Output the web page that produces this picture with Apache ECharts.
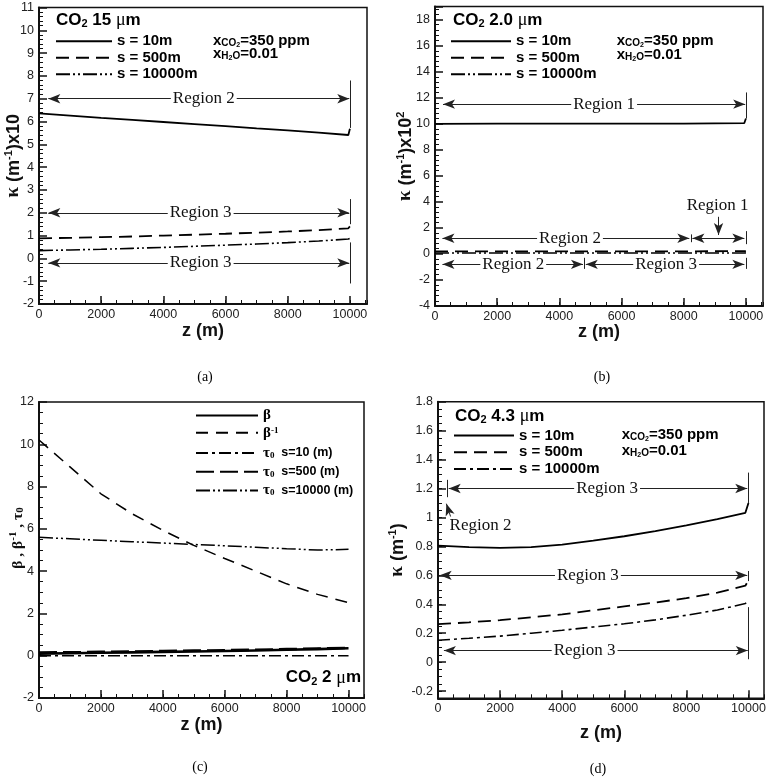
<!DOCTYPE html>
<html><head><meta charset="utf-8">
<script src="https://cdn.jsdelivr.net/npm/echarts@6/dist/echarts.min.js"></script>
<style>html,body{margin:0;padding:0;background:#fff}#c{width:767px;height:777px}</style>
</head><body><div id="c"></div>
<script>
// ---------- DATA ----------
// Panel (a) CO2 15 um
const zA = [0,1000,2000,3000,4000,5000,6000,7000,8000,9000,9950,10000];
const kA_s10    = [6.36,6.26,6.16,6.07,5.98,5.89,5.80,5.70,5.61,5.51,5.41,5.68];
const kA_s500   = [0.88,0.90,0.93,0.96,1.00,1.04,1.08,1.13,1.18,1.24,1.32,1.40];
const kA_s10000 = [0.34,0.37,0.40,0.44,0.48,0.53,0.58,0.63,0.69,0.76,0.85,0.88];
// Panel (b) CO2 2.0 um
const zB = [0,2000,4000,6000,8000,9950,10000];
const kB_s10    = [9.98,10.0,10.0,10.0,10.0,10.05,10.4];
const kB_s500   = [0.20,0.20,0.20,0.20,0.20,0.21,0.22];
const kB_s10000 = [0.07,0.07,0.07,0.07,0.07,0.07,0.08];
// Panel (c) CO2 2 um
const zC = [0,1000,2000,3000,4000,5000,6000,7000,8000,9000,10000];
const beta       = [0.10,0.12,0.14,0.16,0.18,0.20,0.22,0.25,0.28,0.31,0.35];
const betaInv    = [10.2,8.93,7.66,6.72,5.93,5.22,4.60,4.00,3.40,2.90,2.51];
const tau_s10    = [0.00,0.00,0.00,0.00,0.00,0.00,0.00,0.00,0.00,0.00,0.00];
const tau_s500   = [0.15,0.16,0.18,0.20,0.22,0.24,0.26,0.28,0.31,0.34,0.37];
const tau_s10000 = [5.60,5.53,5.46,5.39,5.33,5.26,5.20,5.13,5.06,5.00,5.03];
// Panel (d) CO2 4.3 um
const zD = [0,1000,2000,3000,4000,5000,6000,7000,8000,9000,9900,10000];
const kD_s10    = [0.805,0.795,0.790,0.795,0.812,0.840,0.870,0.905,0.945,0.988,1.032,1.100];
const kD_s500   = [0.262,0.275,0.290,0.310,0.330,0.358,0.385,0.412,0.442,0.480,0.528,0.566];
const kD_s10000 = [0.151,0.165,0.180,0.200,0.220,0.243,0.265,0.292,0.324,0.360,0.405,0.430];
// tick labels for panel (d) y axis
const yTicksD = [-0.2,0,0.2,0.4,0.6,0.8,1,1.2,1.4,1.6,1.8];

// annotations (data coordinates): arrows [x1,x2,y], ticks [x,y1,y2], labels [text,x,y], pointers [[x1,y1],[x2,y2]]
const annA_arrows = [[300,9980,7],[300,9980,2],[300,9980,-0.2]];
const annA_ticks  = [[10000,7.8,5.72],[10000,2.6,1.5],[10000,0.7,-1.1]];
const annA_labels = [['Region 2',5300,7],['Region 3',5200,2],['Region 3',5200,-0.2]];
const annB_arrows = [[257,9977,11.5],[240,8180,1.2],[8280,9950,1.2],[240,4760,-0.8],[4850,9950,-0.8]];
const annB_ticks  = [[10000,12.4,10.4],[8230,1.5,0.9],[10000,1.75,0.75],[4808,-0.3,-1.15],[10000,-0.3,-1.15]];
const annB_labels = [['Region 1',5440,11.5],['Region 2',4342,1.2],['Region 2',2517,-0.8],['Region 3',7435,-0.8],['Region 1',9089,3.75]];
const annB_pointers = [[[9120,2.85],[9120,1.45]]];
const annD_arrows = [[345,9960,1.2],[55,9960,0.6],[190,9977,0.08]];
const annD_ticks  = [[300,1.26,1.14],[10000,1.31,1.1],[10000,0.63,0.56],[10000,0.38,0.02]];
const annD_labels = [['Region 3',5446,1.2],['Region 3',4828,0.6],['Region 3',4722,0.08],['Region 2',1370,0.947]];
const annD_pointers = [[[430,0.99],[270,1.095]]];

// ---------- CHART ----------
const SANS = 'Liberation Sans', SERIF = 'Liberation Serif';
const zip = (xs, ys) => xs.map((x, i) => [x, ys[i]]);
const chart = echarts.init(document.getElementById('c'), null, {renderer: 'canvas'});

const GRIDS = [
  {left:39, top:7.5, width:328, height:296.5},
  {left:435, top:6.5, width:328, height:299.5},
  {left:39, top:402, width:325, height:296},
  {left:438, top:401.7, width:326, height:296.6}
];
const XMAX = [10550, 10550, 10500, 10500];
const XNAMEGAP = [17, 16, 17.5, 25];
const fmt = v => String(+(+v).toFixed(2));

const grid = GRIDS.map(g => Object.assign({show:true, borderColor:'#111', borderWidth:1.5, containLabel:false, outerBoundsMode:'none'}, g));

const xAxis = [];
for (let k = 0; k < 4; k++) {
  xAxis.push({gridIndex:k, type:'value', position:'bottom', min:0, max:XMAX[k], interval:2000,
    axisLine:{show:true, onZero:false, lineStyle:{color:'#111', width:2}},
    axisTick:{show:true, inside:true, length:8, lineStyle:{color:'#111', width:1.5}},
    axisLabel:{showMaxLabel:false, fontSize:12.5, color:'#222', margin:4, fontFamily:SANS, formatter:fmt},
    splitLine:{show:false},
    name:'z (m)', nameLocation:'middle', nameGap:XNAMEGAP[k], nameMoveOverlap:false,
    nameTextStyle:{fontSize:18, fontWeight:'bold', fontFamily:SANS, color:'#111', lineHeight:20}});
  xAxis.push({gridIndex:k, type:'value', position:'bottom', min:0, max:XMAX[k], interval:500,
    axisLine:{show:false, onZero:false}, axisLabel:{show:false}, splitLine:{show:false},
    axisTick:{show:true, inside:true, length:4, lineStyle:{color:'#111', width:1}}});
}

const RICH_Y = {
  k:{fontSize:19, fontFamily:SERIF, color:'#111', lineHeight:20, verticalAlign:'bottom'},
  t:{fontSize:18, fontWeight:'bold', fontFamily:SANS, color:'#111', lineHeight:20, verticalAlign:'bottom'},
  sup:{fontSize:11, fontWeight:'bold', fontFamily:SANS, color:'#111', lineHeight:11, padding:[0,0,12,0], verticalAlign:'top'},
  g:{fontSize:15.5, fontFamily:SERIF, color:'#111', lineHeight:18, verticalAlign:'bottom'},
  gsup:{fontSize:11, fontFamily:SERIF, color:'#111', lineHeight:11, padding:[0,0,10,0], verticalAlign:'top'},
  gsub:{fontSize:11, fontFamily:SERIF, color:'#111', lineHeight:11, padding:[11,0,0,0], verticalAlign:'bottom'}
};
function yAx(k, min, max, interval, name, gap, minorSplit, extra) {
  return Object.assign({gridIndex:k, type:'value', position:'left', min, max, interval,
    axisLine:{show:true, onZero:false, lineStyle:{color:'#111', width:2}},
    axisTick:{show:true, inside:true, length:8, lineStyle:{color:'#111', width:1.5}},
    minorTick:{show: minorSplit > 0, splitNumber: minorSplit || 5, length:4, lineStyle:{color:'#111', width:1}},
    axisLabel:{fontSize:12.5, color:'#222', margin:5, fontFamily:SANS, formatter:fmt},
    splitLine:{show:false}, minorSplitLine:{show:false},
    name, nameLocation:'middle', nameGap:gap, nameRotate:90, nameMoveOverlap:false,
    nameTextStyle:{fontFamily:SANS, fontSize:18, fontWeight:'bold', color:'#111', rich:RICH_Y}}, extra || {});
}
const minorD = [];
for (let v = -0.25; v <= 1.8001; v += 0.05) minorD.push(+v.toFixed(2));
const yAxis = [
  yAx(0, -2, 11, 1, '{k|κ}{t| (m}{sup|-1}{t|)x10}', 16, 5),
  yAx(1, -4, 19, 2, '{k|κ}{t| (m}{sup|-1}{t|)x10}{sup|2}', 20, 5, {axisLabel:{fontSize:12.5, color:'#222', margin:5, fontFamily:SANS, showMaxLabel:false, formatter:fmt}}),
  yAx(2, -2, 12, 2, '{g|β , β}{gsup|-1}{g| , τ}{gsub|0}', 13, 4),
  yAx(3, -0.25, 1.8, 0.05, '{k|κ}{t| (m}{sup|-1}{t|)}', 31, 0, {
    axisTick:{show:true, inside:true, length:8, lineStyle:{color:'#111', width:1.5}, customValues: yTicksD},
    axisLabel:{fontSize:12.5, color:'#222', margin:5, fontFamily:SANS, customValues: yTicksD, formatter: v => String(+(+v).toFixed(1))}}),
  {gridIndex:3, type:'value', position:'left', min:-0.25, max:1.8, axisLine:{show:false}, axisLabel:{show:false}, splitLine:{show:false},
    axisTick:{show:true, inside:true, length:4, lineStyle:{color:'#111', width:1}, customValues: minorD}}
];
yAxis[2].nameTextStyle.padding = [0, 0, 0, 24];

function line(name, k, yi, xs, ys, type, width) {
  return {type:'line', name, xAxisIndex:2*k, yAxisIndex:yi, data:zip(xs, ys), symbol:'none', showSymbol:false,
    silent:true, animation:false, z:3,
    lineStyle:{color:'#000', width: width || 1.6, type: type || 'solid'}, itemStyle:{color:'#000'}};
}
const DASH = [13,7], DDD = [14,3,2,3,2,3], DD = [12,4,3,4];
const AR = {symbol:'arrow', symbolSize:[7,12]};
function annSeries(k, yi, arrows, ticks, labels, pointers) {
  const ml = [];
  arrows.forEach(a => ml.push([Object.assign({coord:[a[0], a[2]]}, AR), Object.assign({coord:[a[1], a[2]]}, AR)]));
  ticks.forEach(t => ml.push([{coord:[t[0], t[1]]}, {coord:[t[0], t[2]]}]));
  (pointers || []).forEach(p => ml.push([{coord:p[0]}, Object.assign({coord:p[1]}, AR)]));
  return {type:'line', name:'ann'+k, xAxisIndex:2*k, yAxisIndex:yi, data:[], silent:true, animation:false,
    markLine:{silent:true, animation:false, symbol:['none','none'], label:{show:false}, emphasis:{disabled:true},
      lineStyle:{color:'#222', width:1, type:'solid'}, data:ml},
    markPoint:{silent:true, animation:false, z:10, symbol:'rect', symbolSize:1, itemStyle:{color:'rgba(0,0,0,0)'},
      label:{show:true, position:'inside', formatter:p => p.name, fontFamily:SERIF, fontSize:17, color:'#111',
        backgroundColor:'#fff', padding:[0,2]},
      data: labels.map(l => ({name:l[0], coord:[l[1], l[2]]}))}};
}

const series = [
  line('a10', 0, 0, zA, kA_s10, 'solid', 1.8),
  line('a500', 0, 0, zA, kA_s500, DASH, 1.8),
  line('a10000', 0, 0, zA, kA_s10000, DDD, 1.6),
  line('b10', 1, 1, zB, kB_s10, 'solid', 1.8),
  line('b500', 1, 1, zB, kB_s500, DASH, 1.8),
  line('b10000', 1, 1, zB, kB_s10000, DDD, 1.6),
  line('cbeta', 2, 2, zC, beta, 'solid', 2.6),
  line('cbetainv', 2, 2, zC, betaInv, [12,8], 1.5),
  line('ctau10', 2, 2, zC, tau_s10, DD, 1.6),
  line('ctau500', 2, 2, zC, tau_s500, [18,6], 2.6),
  line('ctau10000', 2, 2, zC, tau_s10000, DDD, 1.5),
  line('d10', 3, 3, zD, kD_s10, 'solid', 1.8),
  line('d500', 3, 3, zD, kD_s500, DASH, 1.8),
  line('d10000', 3, 3, zD, kD_s10000, DD, 1.6),
  annSeries(0, 0, annA_arrows, annA_ticks, annA_labels),
  annSeries(1, 1, annB_arrows, annB_ticks, annB_labels, annB_pointers),
  annSeries(3, 3, annD_arrows, annD_ticks, annD_labels, annD_pointers)
];

const LBL = {a10:'s = 10m', a500:'s = 500m', a10000:'s = 10000m',
  b10:'s = 10m', b500:'s = 500m', b10000:'s = 10000m',
  d10:'s = 10m', d500:'s = 500m', d10000:'s = 10000m',
  cbeta:'{g|β}', cbetainv:'{g|β}{sup|-1}', ctau10:'{g|τ}{sub|0}{b|  s=10 (m)}',
  ctau500:'{g|τ}{sub|0}{b|  s=500 (m)}', ctau10000:'{g|τ}{sub|0}{b|  s=10000 (m)}'};
function lg(left, top, width, gap, names, fs) {
  return {left, top, orient:'vertical', padding:0, itemWidth:width, itemHeight:14, itemGap:gap, selectedMode:false,
    itemStyle:{opacity:0, color:'rgba(0,0,0,0)', borderWidth:0},
    data:names, formatter:n => LBL[n],
    textStyle:{fontFamily:SANS, fontWeight:'bold', fontSize:fs, color:'#000', lineHeight:14,
      rich:{g:{fontFamily:SERIF, fontSize:15, color:'#000', lineHeight:14},
            sup:{fontFamily:SERIF, fontSize:9, color:'#000', lineHeight:9, padding:[0,0,7,0], verticalAlign:'top'},
            sub:{fontFamily:SERIF, fontSize:9, color:'#000', lineHeight:9, padding:[7,0,0,0], verticalAlign:'bottom'},
            b:{fontFamily:SANS, fontWeight:'bold', fontSize:12.5, color:'#000', lineHeight:14}}}};
}
const legend = [
  lg(55, 33.7, 56, 1.5, ['a10','a500','a10000'], 15),
  lg(450, 33.7, 60, 1.5, ['b10','b500','b10000'], 15),
  lg(195, 408, 62, 2.25, ['cbeta','cbetainv','ctau10','ctau500','ctau10000'], 12.5),
  lg(453, 428, 60, 1.8, ['d10','d500','d10000'], 15)
];

const RT_TITLE = {
  b:{fontSize:17, fontWeight:'bold', fontFamily:SANS, fill:'#000', lineHeight:18, verticalAlign:'top'},
  s:{fontSize:11, fontWeight:'bold', fontFamily:SANS, fill:'#000', lineHeight:11, padding:[9,0,0,0], verticalAlign:'bottom'},
  mu:{fontSize:18, fontFamily:SERIF, fill:'#000', lineHeight:18, verticalAlign:'top'}
};
const RT_X = {
  x:{fontSize:15, fontWeight:'bold', fontFamily:SANS, fill:'#000', lineHeight:15, verticalAlign:'top'},
  s:{fontSize:10, fontWeight:'bold', fontFamily:SANS, fill:'#000', lineHeight:10, padding:[7,0,0,0], verticalAlign:'bottom'},
  ss:{fontSize:7, fontWeight:'bold', fontFamily:SANS, fill:'#000', lineHeight:7, padding:[11,0,0,0], verticalAlign:'bottom'}
};
function txt(x, y, text, rich, align, font) {
  return {type:'text', x, y, silent:true, z:20,
    style:{text, rich, fill:'#000', font: font || ('bold 15px ' + SANS), align: align || 'left', verticalAlign:'middle'}};
}
const co2 = n => '{b|CO}{s|2}{b| ' + n + ' }{mu|μ}{b|m}';
const XCO2 = '{x|x}{s|CO}{ss|2}{x|=350 ppm}', XH2O = '{x|x}{s|H}{ss|2}{s|O}{x|=0.01}';
const graphic = [
  txt(56, 20.7, co2('15'), RT_TITLE), txt(453, 20.7, co2('2.0'), RT_TITLE), txt(455, 416.7, co2('4.3'), RT_TITLE),
  txt(361, 678, co2('2'), RT_TITLE, 'right'),
  txt(213, 40.7, XCO2, RT_X), txt(213, 54, XH2O, RT_X),
  txt(616.7, 40.7, XCO2, RT_X), txt(616.7, 55, XH2O, RT_X),
  txt(621.7, 435, XCO2, RT_X), txt(621.7, 451, XH2O, RT_X),
  txt(205, 377, '(a)', null, 'center', '14px ' + SERIF), txt(602, 377, '(b)', null, 'center', '14px ' + SERIF),
  txt(200, 767, '(c)', null, 'center', '14px ' + SERIF), txt(598, 769, '(d)', null, 'center', '14px ' + SERIF)
];

chart.setOption({animation:false, backgroundColor:'#fff', grid, xAxis, yAxis, series, legend, graphic});
</script></body></html>
